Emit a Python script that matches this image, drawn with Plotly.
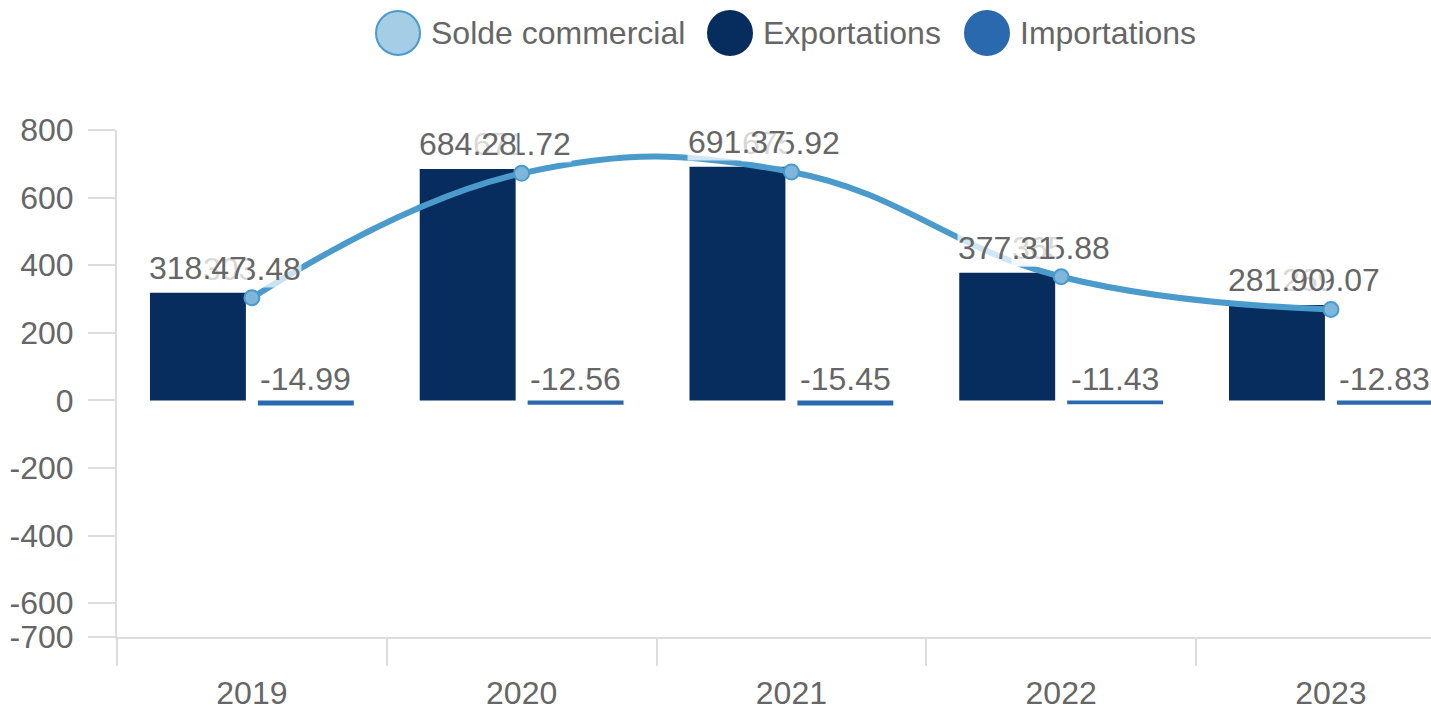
import plotly.graph_objects as go

# Trade figures per year
years = ["2019", "2020", "2021", "2022", "2023"]
exportations = [318.47, 684.28, 691.37, 377.31, 281.90]
importations = [-14.99, -12.56, -15.45, -11.43, -12.83]
solde = [303.48, 671.72, 675.92, 365.88, 269.07]

y_ticks = [800, 600, 400, 200, 0, -200, -400, -600, -700]

FONT = "Liberation Sans, Arial, Helvetica, sans-serif"
TXT = "#666666"
C_EXP = "#062d5e"
C_IMP = "#2a69ad"
C_LINE = "#4a9acb"
C_LINE_FILL = "#a6cde6"
C_MARKER = "#7fb6dc"

fig = go.Figure()

fig.add_trace(go.Bar(
    name="Exportations", x=years, y=exportations,
    marker=dict(color=C_EXP, line=dict(width=0)),
    hoverinfo="x+y",
))
fig.add_trace(go.Bar(
    name="Importations", x=years, y=importations,
    marker=dict(color=C_IMP, line=dict(width=0)),
    hoverinfo="x+y",
))
fig.add_trace(go.Scatter(
    name="Solde commercial", x=years, y=solde,
    mode="lines+markers",
    line=dict(color=C_LINE, width=6, shape="spline", smoothing=1.2),
    marker=dict(size=15, color=C_MARKER, line=dict(color=C_LINE, width=2)),
    cliponaxis=False,
))

# Value labels: balance first, export labels drawn on top of it
annotations = []
label_font = dict(family=FONT, size=32, color=TXT)
for i, v in enumerate(solde):
    annotations.append(dict(
        x=i, y=v, xref="x", yref="y", text=f"{v:.2f}", showarrow=False,
        xanchor="center", yanchor="bottom", yshift=10, font=label_font,
        bgcolor="rgba(255,255,255,0.7)", borderpad=0,
    ))
for i, v in enumerate(exportations):
    annotations.append(dict(
        x=i - 0.2, y=v, xref="x", yref="y", text=f"{v:.2f}", showarrow=False,
        xanchor="center", yanchor="bottom", yshift=6, font=label_font,
        bgcolor="rgba(255,255,255,0.75)", borderpad=0,
    ))
for i, v in enumerate(importations):
    annotations.append(dict(
        x=i + 0.2, y=0, xref="x", yref="y", text=f"{v:.2f}", showarrow=False,
        xanchor="center", yanchor="bottom", yshift=2, font=label_font,
        borderpad=0,
    ))

# Custom legend with large round swatches
L, R, T, B = 117, 0, 130, 73
W, H = 1431, 710
pw, ph = W - L - R, H - T - B


def px_x(px):
    return (px - L) / pw


def px_y(py):
    return (H - B - py) / ph


legend_items = [
    ("Solde commercial", 398, C_LINE_FILL, C_LINE),
    ("Exportations", 730, C_EXP, C_EXP),
    ("Importations", 987, C_IMP, C_IMP),
]
shapes = []
for label, cx, fill, border in legend_items:
    shapes.append(dict(
        type="circle", xref="paper", yref="paper",
        xsizemode="pixel", ysizemode="pixel",
        xanchor=px_x(cx), yanchor=px_y(33),
        x0=-22, x1=22, y0=-22, y1=22,
        fillcolor=fill, line=dict(color=border, width=2),
    ))
    annotations.append(dict(
        x=px_x(cx + 31), y=px_y(33), xref="paper", yref="paper",
        text=label, showarrow=False, xanchor="left", yanchor="middle",
        font=dict(family=FONT, size=32, color=TXT),
    ))

fig.update_layout(
    width=W, height=H,
    margin=dict(l=L, r=R, t=T, b=B, pad=0),
    paper_bgcolor="white", plot_bgcolor="white",
    showlegend=False,
    barmode="group", bargap=0.2, bargroupgap=0.111,
    font=dict(family=FONT, size=32, color=TXT),
    annotations=annotations, shapes=shapes,
    xaxis=dict(
        type="category", range=[-0.5, 4.371],
        showgrid=False, zeroline=False,
        showline=True, linecolor="#dddddd", linewidth=2,
        ticks="outside", tickson="boundaries", ticklen=27,
        tickcolor="#dddddd", tickwidth=2,
        tickfont=dict(family=FONT, size=32, color=TXT),
        ticklabelstandoff=27,
    ),
    yaxis=dict(
        range=[-700, 800], tickmode="array", tickvals=y_ticks,
        ticktext=[str(t) for t in y_ticks],
        showgrid=False, zeroline=False,
        showline=True, linecolor="#dddddd", linewidth=2,
        ticks="outside", ticklen=27, tickcolor="#dddddd", tickwidth=2,
        tickfont=dict(family=FONT, size=32, color=TXT),
        ticklabelstandoff=8,
    ),
)

fig.write_html("out.html")
